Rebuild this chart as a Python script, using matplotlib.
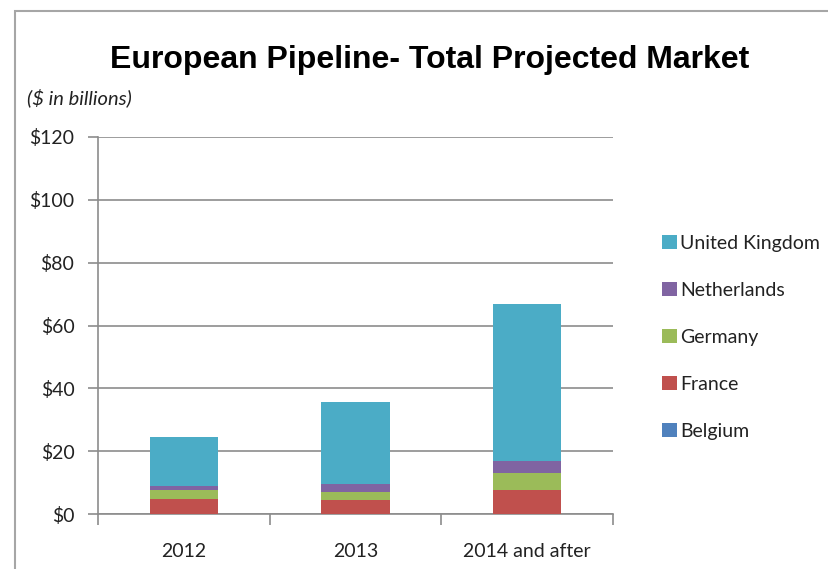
import matplotlib
matplotlib.use("Agg")
import matplotlib.pyplot as plt
import numpy as np
from matplotlib.patches import Rectangle

# Data ($ in billions)
years = ['2012', '2013', '2014 and after']
belgium = [0.0, 0.0, 0.0]
france = [4.7, 4.5, 7.7]
germany = [2.9, 2.5, 5.5]
netherlands = [1.3, 2.5, 3.8]
uk = [15.7, 26.3, 49.8]

series = [('Belgium', belgium, '#4F81BD'),
          ('France', france, '#C0504D'),
          ('Germany', germany, '#9BBB59'),
          ('Netherlands', netherlands, '#8064A2'),
          ('United Kingdom', uk, '#4BACC6')]

W, H = 829, 569
fig = plt.figure(figsize=(W / 100, H / 100), dpi=100)
ax = fig.add_axes([98 / W, (H - 514) / H, (613 - 98) / W, (514 - 137) / H])

grey = '#8c8c8c'
x = np.arange(len(years))
bottom = np.zeros(len(years))
handles = []
for name, vals, col in series:
    b = ax.bar(x, vals, width=0.4, bottom=bottom, color=col, zorder=3, label=name)
    bottom += np.array(vals)
    handles.append(b)

ax.set_xlim(-0.5, len(years) - 0.5)
ax.set_ylim(0, 120)
ax.set_yticks(range(0, 121, 20))
ax.set_yticklabels([f'${v}' for v in range(0, 121, 20)], fontfamily='Lato', fontsize=14,
                   color='#222222')
ax.yaxis.grid(True, color=grey, linewidth=1.2, zorder=0)

# category labels centred, ticks at boundaries
ax.set_xticks(x)
ax.set_xticklabels(years, fontfamily='Lato', fontsize=14, color='#222222')
ax.tick_params(axis='x', length=0, pad=21)
ax.set_xticks(np.arange(-0.5, len(years)), minor=True)
ax.tick_params(axis='x', which='minor', length=8, color=grey, width=1.2)
ax.tick_params(axis='y', length=7, color=grey, width=1.2, pad=10)

for s in ['top', 'right']:
    ax.spines[s].set_visible(False)
for s in ['left', 'bottom']:
    ax.spines[s].set_color(grey)
    ax.spines[s].set_linewidth(1.2)

# legend (top entry is United Kingdom)
leg = fig.legend(handles[::-1], [s[0] for s in series][::-1], loc='upper left',
                 bbox_to_anchor=(645 / W, (H - 217) / H), frameon=False,
                 prop={'family': 'Lato', 'size': 14}, handlelength=0.75, handleheight=0.75,
                 handletextpad=0.15, labelspacing=1.55)
for t in leg.get_texts():
    t.set_color('#222222')

fig.text(430 / W, (H - 60) / H, 'European Pipeline- Total Projected Market',
         ha='center', va='center', fontfamily='Liberation Sans', fontweight='bold', fontsize=23)
fig.text(27 / W, (H - 98) / H, '($ in billions)', ha='left', va='center',
         fontfamily='Lato', fontstyle='italic', fontsize=14.5, color='#222222')

# outer chart frame
fig.patches.append(Rectangle((15 / W, -0.1), 1.2, (H - 11) / H + 0.1, transform=fig.transFigure,
                             fill=False, edgecolor='#a6a6a6', linewidth=1.5))

fig.savefig('out.png', dpi=100)
